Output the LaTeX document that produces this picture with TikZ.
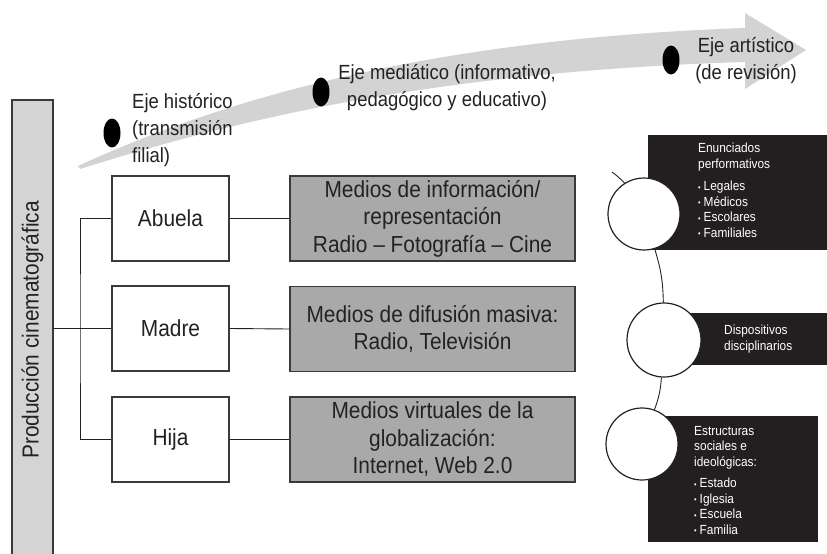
\documentclass[tikz,border=0pt]{standalone}
\usepackage{fontspec}
\setmainfont{Liberation Sans}[FakeStretch=0.9]
\usetikzlibrary{shapes.geometric}
\definecolor{arrowgray}{HTML}{D3D3D3}
\definecolor{bargray}{HTML}{D4D4D4}
\definecolor{boxgray}{HTML}{A9A9AA}
\definecolor{edgegray}{HTML}{3A3A3A}
\definecolor{blackbox}{HTML}{231F20}
\definecolor{ink}{HTML}{222222}
\newcommand{\bul}{{\fontsize{8}{8}\selectfont\raisebox{0.6pt}{•}}\hspace{3pt}}
\begin{document}
\begin{tikzpicture}[x=1pt,y=1pt,
  bigtext/.style={font=\fontsize{23.2}{27.5}\selectfont, text=ink, align=center},
  toptext/.style={font=\fontsize{20.5}{27}\selectfont, text=ink, inner sep=0pt},
  smalltext/.style={font=\fontsize{13.2}{15.5}\selectfont, text=white, align=left, inner sep=0pt, anchor=north west},
  whitebox/.style={bigtext, draw=edgegray, fill=white, line width=1.2pt, minimum width=117, minimum height=85, inner sep=0pt},
  graybox/.style={bigtext, draw=edgegray, fill=boxgray, line width=1.2pt, minimum width=285, minimum height=85, inner sep=0pt},
  blk/.style={fill=blackbox, draw=none, inner sep=0pt},
  ring/.style={circle, draw=ink, fill=white, line width=1.2pt, inner sep=0pt},
  dotmark/.style={ellipse, fill=black, minimum width=17, minimum height=29, inner sep=0pt},
  conn/.style={draw=ink, line width=0.9pt}]
\useasboundingbox (0,0) rectangle (827,-554);

% big curved arrow
\fill[arrowgray] (78,-166) .. controls (200,-110) and (400,-40) .. (745,-28)
  -- (745,-13) -- (806,-50) -- (745,-89) -- (745,-62)
  .. controls (420,-72) and (220,-125) .. (80,-169) -- cycle;

\node[dotmark] (d1) at (112,-133) {};
\node[dotmark] (d2) at (321,-92) {};
\node[dotmark] (d3) at (671,-60) {};

\node[toptext, align=left, anchor=west] (t1) at (132,-130) {Eje histórico\\(transmisión\\filial)};
\node[toptext, align=center] (t2) at (447,-88) {Eje mediático (informativo,\\pedagógico y educativo)};
\node[toptext, align=center] (t3) at (746,-61) {Eje artístico\\(de revisión)};

% left bar
\node[draw=edgegray, fill=bargray, line width=1.2pt, minimum width=460, minimum height=41,
  inner sep=0pt, rotate=90, font=\fontsize{23.2}{25}\selectfont, text=ink] (bar) at (32.5,-330) {Producción cinematográfica};

% white boxes
\node[whitebox] (abuela) at (170.5,-218.5) {Abuela};
\node[whitebox] (madre) at (170.5,-328.5) {Madre};
\node[whitebox] (hija) at (170.5,-439.5) {Hija};

% gray boxes
\node[graybox] (g1) at (432.5,-218.5) {Medios de información/\\representación\\Radio – Fotografía – Cine};
\node[graybox] (g2) at (432.5,-329) {Medios de difusión masiva:\\Radio, Televisión};
\node[graybox] (g3) at (432.5,-439.5) {Medios virtuales de la\\globalización:\\Internet, Web 2.0};

% connectors left
\coordinate (jn) at (80,-328.5);
\draw[conn] (bar.south |- madre.west) -- (madre.west);
\draw[conn] (abuela.west) -| (jn) |- (hija.west);
\draw[conn] (abuela.east) -- (g1.west);
\draw[conn] (madre.east) -- (g2.west);
\draw[conn] (hija.east) -- (g3.west);

% right side
\node[blk, minimum width=182, minimum height=115, anchor=north west] (b1) at (648,-135) {};
\node[blk, minimum width=140, minimum height=52, anchor=north west] (b2) at (690,-313) {};
\node[blk, minimum width=170, minimum height=126, anchor=north west] (b3) at (648,-416) {};

\coordinate (ctop) at (612,-172);
\node[ring, minimum size=72] (c1) at (644,-214) {};
\node[ring, minimum size=74] (c2) at (664,-340) {};
\node[ring, minimum size=72] (c3) at (642,-444) {};
\draw[conn] (ctop) to[bend left=5] (c1);
\draw[conn] (c1) to[bend left=8] (c2);
\draw[conn] (c2) to[bend left=8] (c3);

\node[smalltext] (s1) at (698,-143) {Enunciados\\performativos\\[7pt]\bul Legales\\\bul Médicos\\\bul Escolares\\\bul Familiales};
\node[smalltext, anchor=west] (s2) at (724,-339) {Dispositivos\\disciplinarios};
\node[smalltext] (s3) at (694,-426) {Estructuras\\sociales e\\ideológicas:\\[6pt]\bul Estado\\\bul Iglesia\\\bul Escuela\\\bul Familia};
\end{tikzpicture}
\end{document}
